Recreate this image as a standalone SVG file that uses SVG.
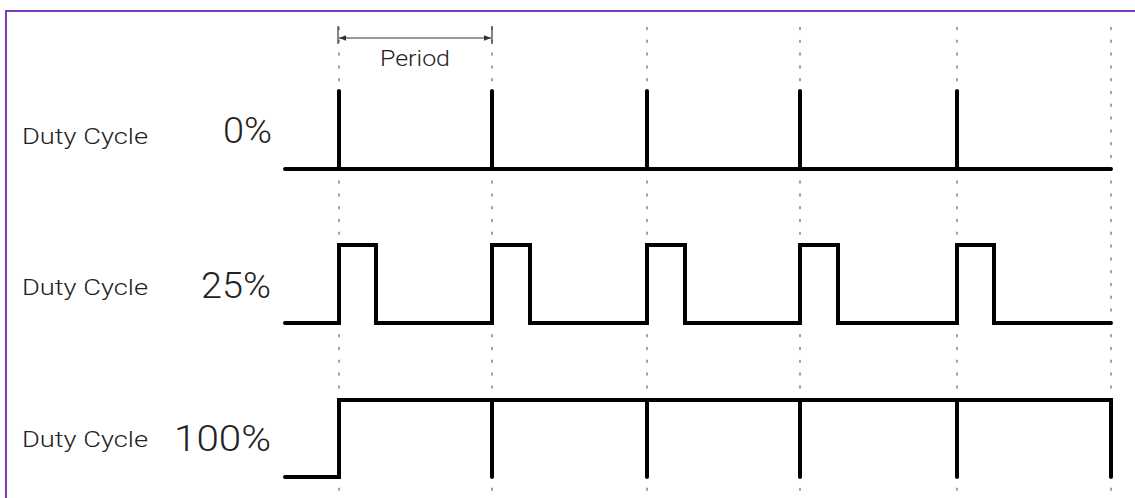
<svg xmlns="http://www.w3.org/2000/svg" width="1135" height="498" viewBox="0 0 1135 498">
  <defs>
    <marker id="arr" viewBox="0 0 10 10" refX="10" refY="5" markerWidth="7" markerHeight="7" orient="auto-start-reverse" markerUnits="userSpaceOnUse">
      <path d="M0,1 L10,5 L0,9 Z" fill="#333"/>
    </marker>
    <style>
      .frame { fill: none; stroke: #7d3cc0; stroke-width: 2; }
      .grid { stroke: #a0a0a0; stroke-width: 2; stroke-dasharray: 3 9.8; fill: none; }
      .wave { fill: none; stroke: #000; stroke-width: 4; stroke-linejoin: miter; stroke-linecap: round; }
      .dim { stroke: #333; stroke-width: 1.2; fill: none; }
      .lbl { font-family: Roboto, "Liberation Sans", Arial, sans-serif; font-weight: 300; font-size: 22px; fill: #222; }
      .pct { font-family: Roboto, "Liberation Sans", Arial, sans-serif; font-weight: 300; font-size: 36px; fill: #222; text-anchor: end; }
    </style>
  </defs>

  <rect width="1135" height="498" fill="#fff"/>
  <rect class="frame" x="6" y="11" width="1140" height="500"/>

  <!-- period boundaries -->
  <g id="grid">
    <line class="grid" x1="339" y1="27" x2="339" y2="492"/>
    <line class="grid" x1="492" y1="27" x2="492" y2="492"/>
    <line class="grid" x1="647" y1="27" x2="647" y2="492"/>
    <line class="grid" x1="800" y1="27" x2="800" y2="492"/>
    <line class="grid" x1="957" y1="27" x2="957" y2="492"/>
    <line class="grid" x1="1111" y1="27" x2="1111" y2="492"/>
  </g>

  <!-- period dimension -->
  <g id="period">
    <line class="dim" x1="338" y1="26" x2="338" y2="44"/>
    <line class="dim" x1="492" y1="26" x2="492" y2="44"/>
    <line class="dim" x1="339" y1="38" x2="491" y2="38" marker-start="url(#arr)" marker-end="url(#arr)"/>
    <text class="lbl" x="380" y="66" textLength="70" lengthAdjust="spacingAndGlyphs">Period</text>
  </g>

  <!-- 0% -->
  <g id="row-0">
    <text class="lbl" x="22" y="144" textLength="126" lengthAdjust="spacingAndGlyphs">Duty Cycle</text>
    <text class="pct" x="272" y="143" textLength="49" lengthAdjust="spacingAndGlyphs">0%</text>
    <path class="wave" d="M285,169 H1111 M339,91 V169 M492,91 V169 M647,91 V169 M800,91 V169 M957,91 V169"/>
  </g>

  <!-- 25% -->
  <g id="row-25">
    <text class="lbl" x="22" y="295" textLength="126" lengthAdjust="spacingAndGlyphs">Duty Cycle</text>
    <text class="pct" x="271" y="298" textLength="70" lengthAdjust="spacingAndGlyphs">25%</text>
    <path class="wave" d="M285,323 H339 V245 H376 V323 H492 V245 H530 V323 H647 V245 H685 V323 H800 V245 H838 V323 H957 V245 H994 V323 H1111"/>
  </g>

  <!-- 100% -->
  <g id="row-100">
    <text class="lbl" x="22" y="447" textLength="126" lengthAdjust="spacingAndGlyphs">Duty Cycle</text>
    <text class="pct" x="271" y="451" textLength="97" lengthAdjust="spacingAndGlyphs">100%</text>
    <path class="wave" d="M285,477 H339 V400 H1111 V477 M492,400 V477 M647,400 V477 M800,400 V477 M957,400 V477"/>
  </g>
</svg>
